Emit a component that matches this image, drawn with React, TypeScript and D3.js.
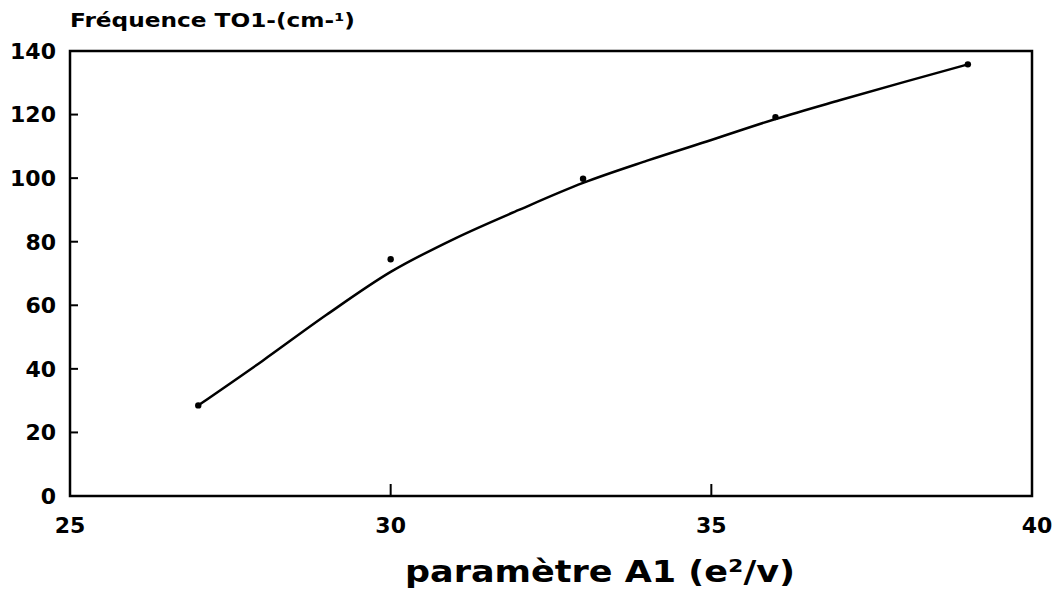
import { useEffect, useRef } from 'react';
import * as d3 from 'd3';

// measured points (parameter A1, TO1 frequency)
const pointX = [27, 30, 33, 36, 39];
const pointY = [28.5, 74.5, 99.8, 119.2, 135.8];

// hand-drawn fitted curve
const curveX = [27, 28, 29, 30, 31, 32, 33, 34, 35, 36, 37, 38, 39];
const curveY = [28.5, 42.5, 57, 70.5, 81, 90, 98.5, 105.5, 112, 118.6, 124.5, 130.2, 135.8];

const xTicks = [25, 30, 35, 40];
const yTicks = [0, 20, 40, 60, 80, 100, 120, 140];

const W = 1053;
const H = 602;
const FONT = '"DejaVu Sans", Arial, sans-serif';

export default function App() {
  const svgRef = useRef<SVGSVGElement>(null);

  useEffect(() => {
    if (!svgRef.current) return;
    const svg = d3.select(svgRef.current);
    svg.selectAll('*').remove();

    const x = d3.scaleLinear().domain([25, 40]).range([70, 1032]);
    const y = d3.scaleLinear().domain([0, 140]).range([496, 51]);

    // frame
    svg.append('rect')
      .attr('x', x(25))
      .attr('y', y(140))
      .attr('width', x(40) - x(25))
      .attr('height', y(0) - y(140))
      .attr('fill', 'none')
      .attr('stroke', '#000')
      .attr('stroke-width', 2.5);

    // y ticks (inward) + labels
    yTicks.forEach(t => {
      if (t !== 0 && t !== 140) {
        svg.append('line')
          .attr('x1', x(25)).attr('x2', x(25) + 8)
          .attr('y1', y(t)).attr('y2', y(t))
          .attr('stroke', '#000').attr('stroke-width', 2);
      }
      svg.append('text')
        .attr('x', x(25) - 14)
        .attr('y', y(t))
        .attr('dy', '0.36em')
        .attr('text-anchor', 'end')
        .attr('font-family', FONT)
        .attr('font-weight', 'bold')
        .attr('font-size', 22)
        .text(t);
    });

    // x ticks (inward) + labels
    xTicks.forEach(t => {
      if (t !== 25 && t !== 40) {
        svg.append('line')
          .attr('x1', x(t)).attr('x2', x(t))
          .attr('y1', y(0)).attr('y2', y(0) - 12)
          .attr('stroke', '#000').attr('stroke-width', 2);
      }
      svg.append('text')
        .attr('x', t === 40 ? x(t) + 5 : x(t))
        .attr('y', 533)
        .attr('text-anchor', 'middle')
        .attr('font-family', FONT)
        .attr('font-weight', 'bold')
        .attr('font-size', 22)
        .text(t);
    });

    // fitted curve
    const line = d3.line<number>()
      .curve(d3.curveMonotoneX)
      .x((_, i) => x(curveX[i]))
      .y(d => y(d));

    svg.append('path')
      .datum(curveY)
      .attr('d', line)
      .attr('fill', 'none')
      .attr('stroke', '#000')
      .attr('stroke-width', 2.5)
      .attr('stroke-linejoin', 'round');

    // data points
    pointX.forEach((px, i) => {
      svg.append('circle')
        .attr('cx', x(px))
        .attr('cy', y(pointY[i]))
        .attr('r', 3.2)
        .attr('fill', '#000');
    });

    // title (y axis label)
    svg.append('text')
      .attr('x', 70)
      .attr('y', 27)
      .attr('font-family', FONT)
      .attr('font-weight', 'bold')
      .attr('font-size', 19)
      .attr('textLength', 285)
      .attr('lengthAdjust', 'spacingAndGlyphs')
      .text('Fréquence TO1-(cm-¹)');

    // x axis label
    svg.append('text')
      .attr('x', 405)
      .attr('y', 582)
      .attr('font-family', FONT)
      .attr('font-weight', 'bold')
      .attr('font-size', 31)
      .attr('textLength', 390)
      .attr('lengthAdjust', 'spacingAndGlyphs')
      .text('paramètre A1 (e²/v)');
  }, []);

  return (
    <svg
      ref={svgRef}
      width={W}
      height={H}
      style={{ position: 'absolute', left: 0, top: 0, background: '#fff' }}
    />
  );
}
